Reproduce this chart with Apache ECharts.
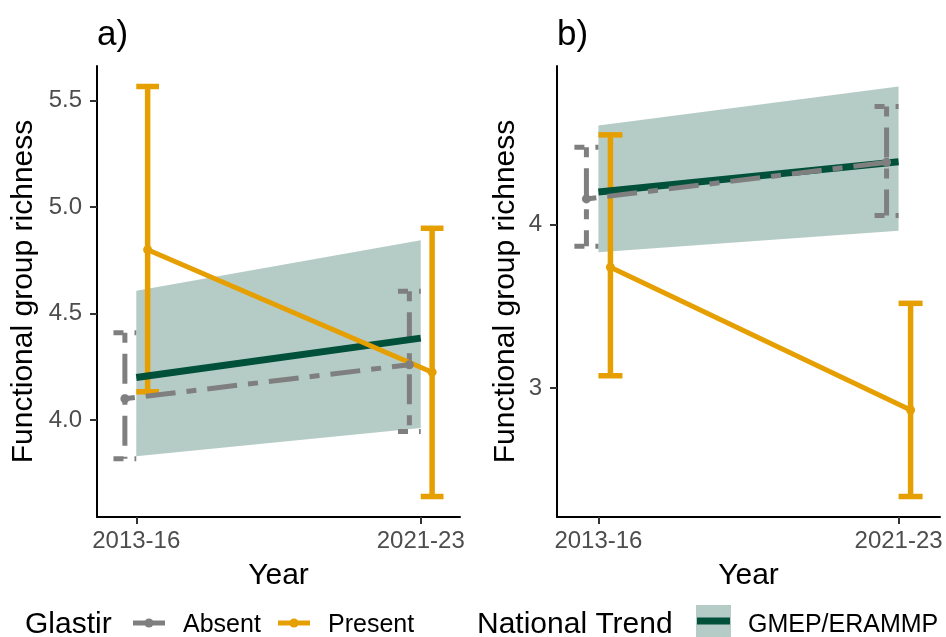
<!DOCTYPE html>
<html>
<head>
<meta charset="utf-8">
<script src="https://cdn.jsdelivr.net/npm/echarts@6/dist/echarts.min.js"></script>
<style>
  html, body { margin: 0; padding: 0; background: #ffffff; }
  #chart { width: 946px; height: 637px; }
</style>
</head>
<body>
<div id="chart"></div>
<script>
// Survey periods and their positions on the x scale
const years = ['2013-16', '2021-23'];
const yearPos = [1, 2];

// National trend (GMEP/ERAMMP): mean and confidence band
const trendMean = [4.20, 4.385];
const trendLower = [3.83, 3.963];
const trendUpper = [4.607, 4.845];

// Panel a) Glastir absent / present: mean and interval
const absentMeanA = [4.10, 4.26];
const absentLowerA = [3.818, 3.946];
const absentUpperA = [4.41, 4.605];
const presentMeanA = [4.80, 4.225];
const presentLowerA = [4.133, 3.641];
const presentUpperA = [5.567, 4.901];

// Panel b) Glastir absent / present: mean and interval
const absentMeanB = [4.157, 4.381];
const absentLowerB = [3.867, 4.055];
const absentUpperB = [4.473, 4.723];
const presentMeanB = [3.739, 2.865];
const presentLowerB = [3.075, 2.336];
const presentUpperB = [4.549, 3.518];

// Y tick labels for each panel
const yTicksA = [4.0, 4.5, 5.0, 5.5];
const yTicksB = [3, 4];

const FONT = '"Liberation Sans", Arial, Helvetica, sans-serif';
const GREY = '#7f7f7f';
const ORANGE = '#E69F00';
const GREEN = '#00503A';
const BAND = 'rgba(0, 80, 58, 0.29)';
const TWODASH = [10, 11, 30, 11];
const DODGE = 0.04;
const CAP = 0.04;

// ggplot-style 5% expansion of the data range
function expandedRange(arrays) {
  const all = [].concat(...arrays);
  const lo = Math.min(...all), hi = Math.max(...all);
  const pad = (hi - lo) * 0.05;
  return [lo - pad, hi + pad];
}
const xLo = 1 - DODGE - CAP, xHi = 2 + DODGE + CAP;
const xPad = (xHi - xLo) * 0.05;

const rangeA = expandedRange([trendLower, trendUpper, absentLowerA, absentUpperA, presentLowerA, presentUpperA]);
const rangeB = expandedRange([trendLower, trendUpper, absentLowerB, absentUpperB, presentLowerB, presentUpperB]);

function xAxisFor(gridIndex) {
  return {
    type: 'value', gridIndex: gridIndex,
    min: xLo - xPad, max: xHi + xPad,
    name: 'Year', nameLocation: 'middle', nameGap: 44,
    nameTextStyle: { fontFamily: FONT, fontSize: 30, color: '#000' },
    axisLine: { show: true, onZero: false, lineStyle: { color: '#000', width: 2 } },
    axisTick: { show: true, length: 7, customValues: yearPos, lineStyle: { color: '#333', width: 2 } },
    axisLabel: {
      customValues: yearPos, margin: 12,
      fontFamily: FONT, fontSize: 24, color: '#4D4D4D',
      formatter: v => years[yearPos.indexOf(Math.round(v))] || ''
    },
    splitLine: { show: false }
  };
}
function yAxisFor(gridIndex, range, ticks, decimals, gap) {
  return {
    type: 'value', gridIndex: gridIndex,
    min: range[0], max: range[1],
    name: 'Functional group richness', nameLocation: 'middle', nameRotate: 90, nameGap: gap,
    nameTextStyle: { fontFamily: FONT, fontSize: 30, color: '#000' },
    axisLine: { show: true, onZero: false, lineStyle: { color: '#000', width: 2 } },
    axisTick: { show: true, length: 7, customValues: ticks, lineStyle: { color: '#333', width: 2 } },
    axisLabel: {
      customValues: ticks, margin: 15,
      fontFamily: FONT, fontSize: 24, color: '#4D4D4D',
      formatter: v => Number(v).toFixed(decimals)
    },
    splitLine: { show: false }
  };
}

// Confidence band drawn as a polygon through the axis scales
function bandSeries(idx) {
  return {
    type: 'custom', xAxisIndex: idx, yAxisIndex: idx,
    data: yearPos.map((x, i) => [x, trendLower[i], trendUpper[i]]),
    renderItem: function (params, api) {
      if (params.dataIndex !== 0) return null;
      const upper = yearPos.map((x, i) => api.coord([x, trendUpper[i]]));
      const lower = yearPos.map((x, i) => api.coord([x, trendLower[i]])).reverse();
      return { type: 'polygon', shape: { points: upper.concat(lower) }, style: { fill: BAND } };
    },
    silent: true
  };
}
function trendSeries(idx) {
  return {
    type: 'line', xAxisIndex: idx, yAxisIndex: idx,
    data: yearPos.map((x, i) => [x, trendMean[i]]),
    symbol: 'none', lineStyle: { color: GREEN, width: 7, cap: 'butt' }
  };
}
// Error bars: top cap, stem and bottom cap as separate strokes
function errorSeries(idx, lower, upper, offset, color, width, dash) {
  return {
    type: 'custom', xAxisIndex: idx, yAxisIndex: idx,
    data: yearPos.map((x, i) => [x + offset, lower[i], upper[i]]),
    renderItem: function (params, api) {
      const x = api.value(0), lo = api.value(1), hi = api.value(2);
      const st = { stroke: color, lineWidth: width, lineDash: dash, lineCap: 'butt', fill: null };
      const seg = (a, b) => ({ type: 'line', shape: { x1: a[0], y1: a[1], x2: b[0], y2: b[1] }, style: st });
      return {
        type: 'group',
        children: [
          seg(api.coord([x - CAP, hi]), api.coord([x + CAP, hi])),
          seg(api.coord([x, hi]), api.coord([x, lo])),
          seg(api.coord([x - CAP, lo]), api.coord([x + CAP, lo]))
        ]
      };
    },
    silent: true
  };
}
function meanSeries(idx, mean, offset, color, dash) {
  return {
    type: 'line', xAxisIndex: idx, yAxisIndex: idx,
    data: yearPos.map((x, i) => [x + offset, mean[i]]),
    symbol: 'circle', symbolSize: 9,
    itemStyle: { color: color },
    lineStyle: { color: color, width: 5, type: dash || 'solid', cap: 'butt' }
  };
}

const chart = echarts.init(document.getElementById('chart'), null, { renderer: 'canvas' });
chart.setOption({
  animation: false,
  backgroundColor: '#ffffff',
  grid: [
    { left: 97, top: 66, width: 363, height: 451, outerBoundsMode: 'none' },
    { left: 557, top: 66, width: 383, height: 451, outerBoundsMode: 'none' }
  ],
  xAxis: [xAxisFor(0), xAxisFor(1)],
  yAxis: [
    yAxisFor(0, rangeA, yTicksA, 1, 58),
    yAxisFor(1, rangeB, yTicksB, 0, 36)
  ],
  series: [
    bandSeries(0), trendSeries(0),
    errorSeries(0, absentLowerA, absentUpperA, -DODGE, GREY, 5, TWODASH),
    meanSeries(0, absentMeanA, -DODGE, GREY, TWODASH),
    errorSeries(0, presentLowerA, presentUpperA, DODGE, ORANGE, 5.5, null),
    meanSeries(0, presentMeanA, DODGE, ORANGE, null),

    bandSeries(1), trendSeries(1),
    errorSeries(1, absentLowerB, absentUpperB, -DODGE, GREY, 5, TWODASH),
    meanSeries(1, absentMeanB, -DODGE, GREY, TWODASH),
    errorSeries(1, presentLowerB, presentUpperB, DODGE, ORANGE, 5.5, null),
    meanSeries(1, presentMeanB, DODGE, ORANGE, null)
  ],
  graphic: [
    // panel tags
    { type: 'text', left: 97, top: 18, style: { text: 'a)', font: '35px ' + FONT, fill: '#000' } },
    { type: 'text', left: 557, top: 18, style: { text: 'b)', font: '35px ' + FONT, fill: '#000' } },
    // Glastir legend
    { type: 'text', x: 25, y: 625, style: { text: 'Glastir', font: '30px ' + FONT, fill: '#000', verticalAlign: 'middle' } },
    { type: 'line', shape: { x1: 133, y1: 623, x2: 165, y2: 623 }, style: { stroke: GREY, lineWidth: 5 } },
    { type: 'circle', shape: { cx: 149, cy: 623, r: 4.5 }, style: { fill: GREY } },
    { type: 'text', x: 183, y: 625, style: { text: 'Absent', font: '25px ' + FONT, fill: '#000', verticalAlign: 'middle' } },
    { type: 'line', shape: { x1: 278, y1: 623, x2: 310, y2: 623 }, style: { stroke: ORANGE, lineWidth: 5 } },
    { type: 'circle', shape: { cx: 294, cy: 623, r: 4.5 }, style: { fill: ORANGE } },
    { type: 'text', x: 328, y: 625, style: { text: 'Present', font: '25px ' + FONT, fill: '#000', verticalAlign: 'middle' } },
    // National trend legend
    { type: 'text', x: 477, y: 625, style: { text: 'National Trend', font: '30px ' + FONT, fill: '#000', verticalAlign: 'middle' } },
    { type: 'rect', shape: { x: 696, y: 605, width: 35, height: 35 }, style: { fill: BAND } },
    { type: 'line', shape: { x1: 697, y1: 621, x2: 730, y2: 621 }, style: { stroke: GREEN, lineWidth: 7 } },
    { type: 'text', x: 748, y: 625, style: { text: 'GMEP/ERAMMP', font: '25px ' + FONT, fill: '#000', verticalAlign: 'middle' } }
  ]
});
</script>
</body>
</html>
